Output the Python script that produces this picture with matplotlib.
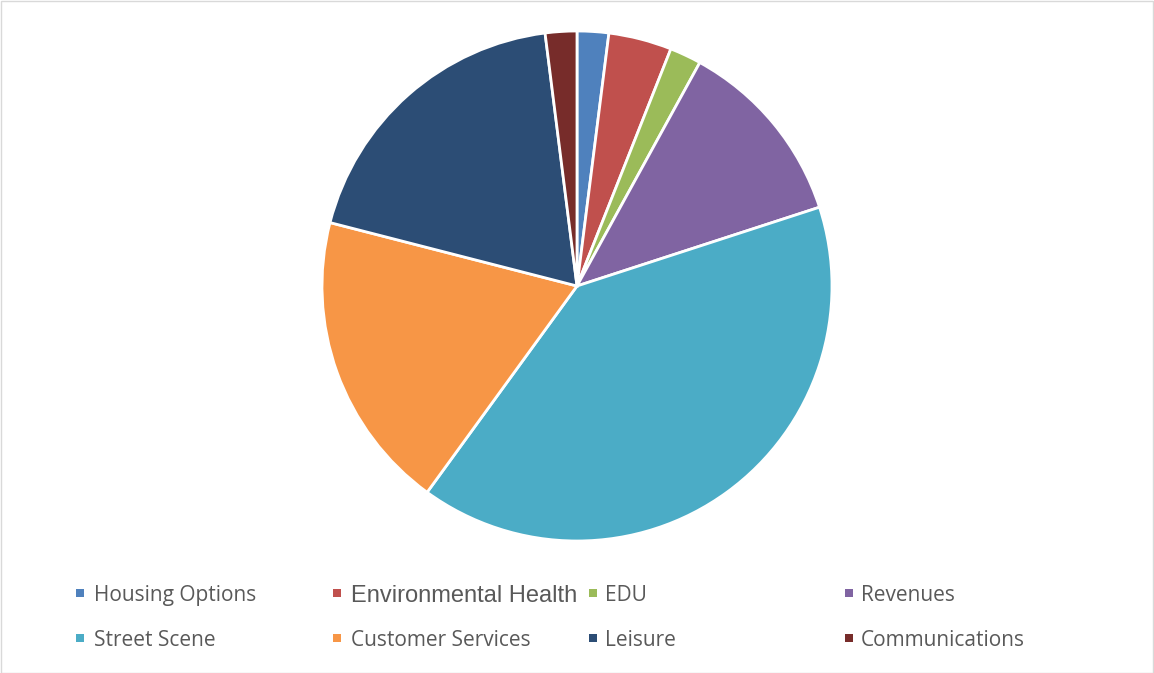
import matplotlib.pyplot as plt
from matplotlib.patches import Rectangle

# Data
labels = ['Housing Options', 'Environmental Health', 'EDU', 'Revenues',
          'Street Scene', 'Customer Services', 'Leisure', 'Communications']
values = [2, 4, 2, 12, 40, 19, 19, 2]
colors = ['#4F81BD', '#C0504D', '#9BBB59', '#8064A2',
          '#4BACC6', '#F79646', '#2C4D75', '#772C2A']

W, H = 1154, 673
fig = plt.figure(figsize=(W / 100, H / 100), dpi=100)

# Pie axes placed by pixel centre / radius
cx, cy, r = 577, 286, 255
ax = fig.add_axes([(cx - r) / W, (H - cy - r) / H, 2 * r / W, 2 * r / H])
ax.pie(values, colors=colors, startangle=90, counterclock=False,
       wedgeprops=dict(edgecolor='white', linewidth=2.0))
ax.set_xlim(-1, 1)
ax.set_ylim(-1, 1)
ax.axis('off')

# Legend drawn by hand (4 columns x 2 rows)
marker_x = [76, 333, 589, 845]
text_x = [94, 351, 605, 861]
row_y = [593, 638]
for i, (lab, col) in enumerate(zip(labels, colors)):
    c, rw = i % 4, i // 4
    y = row_y[rw]
    fig.patches.append(Rectangle((marker_x[c] / W, (H - y - 4) / H), 8 / W, 8 / H,
                                 transform=fig.transFigure, facecolor=col,
                                 edgecolor='none'))
    if lab == 'Environmental Health':
        fig.text(text_x[c] / W, (H - y) / H, lab, fontsize=17,
                 family='Liberation Sans', color='#595959', va='center_baseline')
    else:
        fig.text(text_x[c] / W, (H - y) / H, lab, fontsize=15,
                 family='Open Sans', color='#595959', va='center_baseline')

# light frame round the chart area
fig.patches.append(Rectangle((0.5 / W, 0.5 / H), 1 - 1.5 / W, 1 - 1.5 / H,
                             transform=fig.transFigure, facecolor='none',
                             edgecolor='#D9D9D9', linewidth=1))

fig.savefig('out.png', dpi=100)
